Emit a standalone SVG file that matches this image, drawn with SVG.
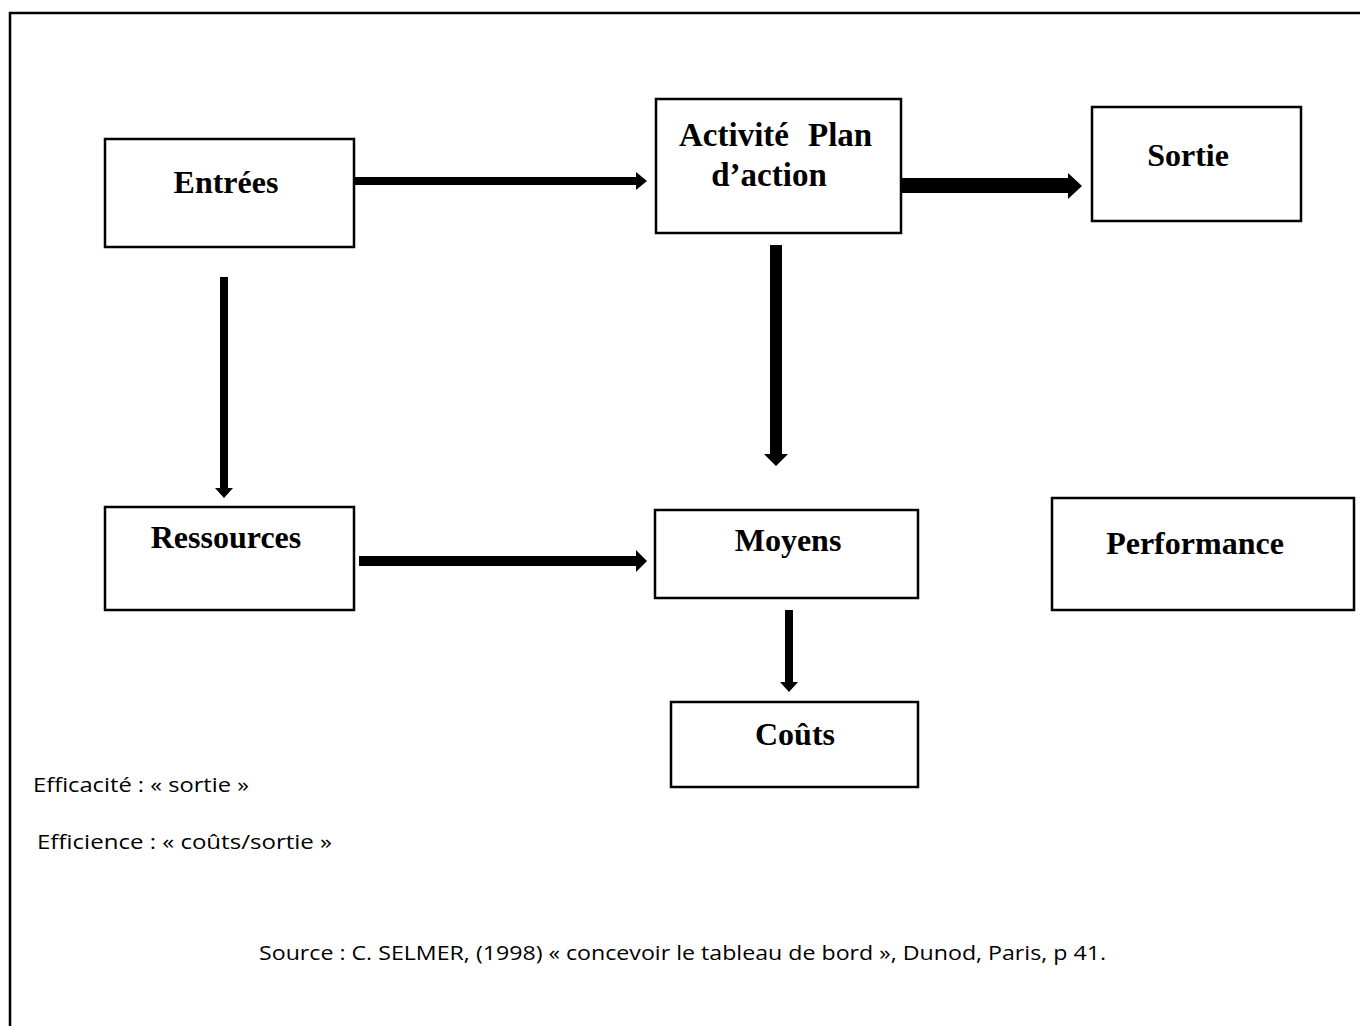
<svg xmlns="http://www.w3.org/2000/svg" width="1360" height="1026" viewBox="0 0 1360 1026">
<style>
.box{fill:#fff;stroke:#000;stroke-width:2.5}
.lbl{font-family:"Liberation Serif","Times New Roman",serif;font-weight:bold;font-size:32px;fill:#000;text-anchor:middle}
.lbl.st{text-anchor:start}
.big{font-size:33px}
.note{font-family:"Open Sans","Liberation Sans",sans-serif;font-size:20px;fill:#000}
.arr{fill:#000}
</style>
<rect width="1360" height="1026" fill="#fff"/>
<path d="M10,1026 V13 H1360" fill="none" stroke="#000" stroke-width="2.5"/>
<g id="connectors">
<path class="arr" d="M355,177 H636 V172 L647,181 L636,190 V185 H355 Z"/>
<path class="arr" d="M901,178 H1068 V173 L1082,186 L1068,199 V193 H901 Z"/>
<path class="arr" d="M220,277 H228 V488 H233 L224,498 L215,488 H220 Z"/>
<path class="arr" d="M770,245 H782 V454 H788 L776,466 L764,454 H770 Z"/>
<path class="arr" d="M359,556 H636 V550 L647,561 L636,572 V566 H359 Z"/>
<path class="arr" d="M785,610 H793 V682 H798 L789,692 L780,682 H785 Z"/>
</g>
<g id="entrees"><rect class="box" x="105" y="139" width="249" height="108"/><text class="lbl" x="226" y="193">Entrées</text></g>
<g id="activite"><rect class="box" x="656" y="99" width="245" height="134"/>
<text class="lbl st big" x="679" y="146">Activité</text>
<text class="lbl st big" x="808" y="146">Plan</text>
<text class="lbl big" x="769" y="186">d’action</text></g>
<g id="sortie"><rect class="box" x="1092" y="107" width="209" height="114"/><text class="lbl" x="1188" y="166">Sortie</text></g>
<g id="ressources"><rect class="box" x="105" y="507" width="249" height="103"/><text class="lbl" x="226" y="548">Ressources</text></g>
<g id="moyens"><rect class="box" x="655" y="510" width="263" height="88"/><text class="lbl" x="788" y="551">Moyens</text></g>
<g id="performance"><rect class="box" x="1052" y="498" width="302" height="112"/><text class="lbl" x="1195" y="554">Performance</text></g>
<g id="couts"><rect class="box" x="671" y="702" width="247" height="85"/><text class="lbl" x="795" y="745">Coûts</text></g>
<text class="note" x="33" y="792" textLength="216" lengthAdjust="spacingAndGlyphs">Efficacité : « sortie »</text>
<text class="note" x="37" y="849" textLength="295" lengthAdjust="spacingAndGlyphs">Efficience : « coûts/sortie »</text>
<text class="note" x="259" y="960" textLength="847" lengthAdjust="spacingAndGlyphs">Source : C. SELMER, (1998) « concevoir le tableau de bord », Dunod, Paris, p 41.</text>
</svg>
